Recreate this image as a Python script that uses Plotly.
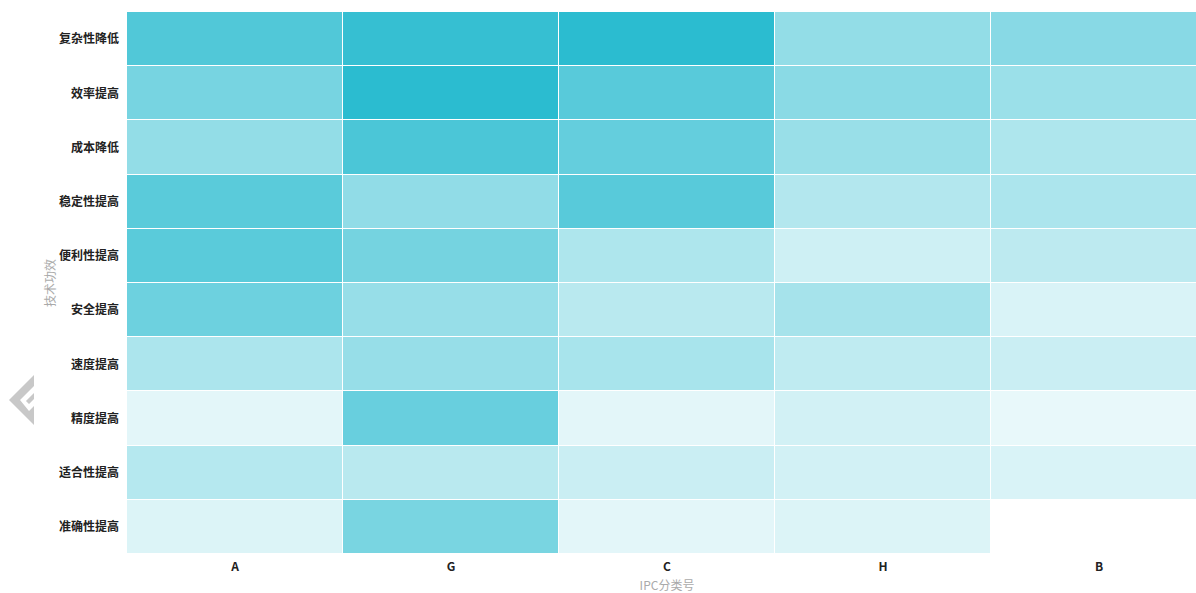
import plotly.graph_objects as go

ipc = ["A", "G", "C", "H", "B"]
effects = ["复杂性降低", "效率提高", "成本降低", "稳定性提高", "便利性提高",
           "安全提高", "速度提高", "精度提高", "适合性提高", "准确性提高"]
row_a = [.82, .64, .51, .78, .78, .69, .39, .13, .35, .165]
row_g = [.95, 1.0, .85, .52, .65, .49, .49, .71, .33, .63]
row_c = [1.0, .79, .73, .79, .38, .33, .41, .13, .25, .13]
row_h = [.51, .55, .48, .36, .23, .42, .30, .21, .21, .165]
row_b = [.56, .47, .38, .39, .31, .18, .25, .11, .18, None]

columns = [row_a, row_g, row_c, row_h, row_b]
z = [[col[i] for col in columns] for i in range(len(effects))]

W, H = 1207, 593
L, R, T, B = 127, 0, 12, 39


def px_path(points):
    """Watermark outline given in page pixels, converted to paper coordinates."""
    pw, ph = W - L - R, H - T - B
    out = []
    for i, (x, y) in enumerate(points):
        out.append(f"{'M' if i == 0 else 'L'}{(x - L) / pw:.5f},{1 - (y - T) / ph:.5f}")
    return " ".join(out) + " Z"


mark = [(9, 400), (34, 375), (34, 425)]
letter = [(20, 400), (34, 386), (34, 393), (26, 401), (29, 404), (34, 399), (34, 406), (29, 411)]

shapes = []
for pts, colour in ((mark, "#c8c8c8"), (letter, "#ffffff")):
    shapes.append(dict(type="path", xref="paper", yref="paper", path=px_path(pts),
                       fillcolor=colour, line_width=0, layer="below"))

fig = go.Figure(go.Heatmap(
    x=ipc, y=effects, z=z, zmin=0, zmax=1,
    colorscale=[[0, "#ffffff"], [1, "#2bbcd0"]],
    showscale=False, xgap=1, ygap=1, hoverongaps=False,
))

font = "Noto Sans CJK SC, Open Sans, sans-serif"
fig.update_layout(
    width=W, height=H, margin=dict(l=L, r=R, t=T, b=B, pad=0, autoexpand=False),
    paper_bgcolor="#ffffff", plot_bgcolor="rgba(0,0,0,0)",
    font=dict(family=font, size=12, color="#222222"),
    shapes=shapes,
    xaxis=dict(range=[-0.5, 4.5], showgrid=False, zeroline=False, showline=False, ticks="",
               ticklabelstandoff=4,
               tickfont=dict(size=12, color="#222222", family=font, weight="bold"),
               title=dict(text="IPC分类号", font=dict(size=12, color="#aaaaaa"), standoff=11)),
    yaxis=dict(autorange="reversed", showgrid=False, zeroline=False, showline=False, ticks="",
               ticklabelstandoff=7,
               tickfont=dict(size=12, color="#222222", family=font, weight="bold"),
               title=dict(text="技术功效", font=dict(size=12, color="#aaaaaa"), standoff=0)),
)
fig.write_html("out.html", config=dict(displayModeBar=False),
               post_script="document.body.style.margin='0';document.body.style.overflow='hidden';")
